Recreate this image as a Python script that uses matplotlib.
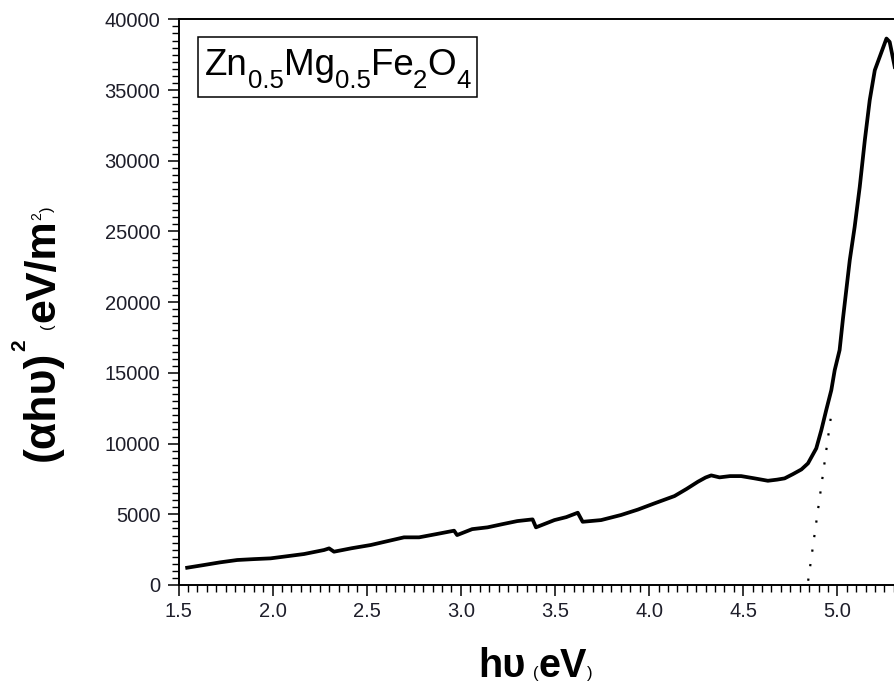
import matplotlib
matplotlib.use("Agg")
import matplotlib.pyplot as plt
from matplotlib.ticker import MultipleLocator
from matplotlib.patches import Rectangle

plt.rcParams['font.family'] = ['Liberation Sans', 'DejaVu Sans']

# ---- data ----
energy_ev = [1.546, 1.635, 1.72, 1.812, 1.90, 1.989, 2.08, 2.167, 2.273, 2.30, 2.326,
             2.42, 2.521, 2.61, 2.698, 2.778, 2.87, 2.964, 2.98, 3.06, 3.142, 3.22,
             3.30, 3.381, 3.399, 3.497, 3.56, 3.621, 3.647, 3.745, 3.851, 3.94, 4.028,
             4.135, 4.20, 4.259, 4.30, 4.33, 4.374, 4.43, 4.489, 4.56, 4.631, 4.68,
             4.72, 4.764, 4.809, 4.844, 4.888, 4.915, 4.941, 4.968, 4.986, 5.012,
             5.03, 5.066, 5.092, 5.119, 5.146, 5.172, 5.199, 5.225, 5.261, 5.278, 5.305]
alpha_hv_sq = [1222, 1413, 1600, 1767, 1830, 1884, 2040, 2190, 2473, 2590, 2355,
               2600, 2827, 3100, 3370, 3370, 3600, 3840, 3530, 3950, 4077, 4300,
               4520, 4640, 4077, 4590, 4800, 5110, 4470, 4590, 4950, 5330, 5770,
               6290, 6800, 7300, 7600, 7750, 7610, 7700, 7700, 7540, 7370, 7450,
               7540, 7840, 8170, 8600, 9660, 10950, 12370, 13780, 15190, 16610,
               18850, 22970, 25320, 28150, 31450, 34280, 36400, 37340, 38640, 38400, 36630]
fit_x = [4.845, 4.966]
fit_y = [300, 11900]

x_ticks = [1.5, 2.0, 2.5, 3.0, 3.5, 4.0, 4.5, 5.0]
y_ticks = [0, 5000, 10000, 15000, 20000, 25000, 30000, 35000, 40000]
x_limits = (1.5, 5.301)
y_limits = (0, 40000)

W, H = 894, 686
fig = plt.figure(figsize=(W / 100, H / 100), dpi=100)
left, right = 178.5 / W, 1.0
bottom, top = 1 - 585 / H, 1 - 19.3 / H
ax = fig.add_axes([left, bottom, right - left, top - bottom])

ax.plot(energy_ev, alpha_hv_sq, color='black', lw=2.7, solid_joinstyle='round')
ax.plot(fit_x, fit_y, color='black', lw=1.6, linestyle=(0, (1, 5.6)))

ax.set_xlim(*x_limits)
ax.set_ylim(*y_limits)
ax.set_xticks(x_ticks)
ax.set_yticks(y_ticks)
ax.set_xticklabels([f"{v:.1f}" for v in x_ticks])
ax.set_yticklabels([f"{v:d}" for v in y_ticks])
ax.xaxis.set_minor_locator(MultipleLocator(0.05))
ax.yaxis.set_minor_locator(MultipleLocator(500))

ax.spines['right'].set_visible(False)
for s in ('left', 'top', 'bottom'):
    ax.spines[s].set_linewidth(1.4)
ax.tick_params(which='major', direction='out', length=8, width=1.1,
               labelsize=14.5, labelcolor='#1e1e2a', pad=4)
ax.tick_params(which='minor', direction='out', length=4.8, width=1.0)
ax.tick_params(axis='y', which='major', pad=5)
ax.tick_params(top=False, right=False, which='both')

renderer = fig.canvas.get_renderer()


def fx(px):
    return px / W


def fy(py):
    return 1 - py / H


def chain_h(pieces, x0, base):
    x = x0
    for txt, size, weight, dy, gap in pieces:
        x += gap
        t = fig.text(fx(x), fy(base + dy), txt, fontsize=size, fontweight=weight,
                     ha='left', va='baseline', color='black')
        x += t.get_window_extent(renderer).width
    return x


def chain_v(pieces, base, y0):
    y = y0
    for txt, size, weight, dx, gap in pieces:
        y -= gap
        t = fig.text(fx(base + dx), fy(y), txt, fontsize=size, fontweight=weight,
                     rotation=90, rotation_mode='anchor', ha='left', va='baseline',
                     color='black')
        y -= t.get_window_extent(renderer).height
    return y


# x label: hυ (eV)
chain_h([("h\u03c5", 28.5, 'bold', 0, 0),
         ("(", 12, 'normal', 1, 8),
         ("eV", 28.5, 'bold', 0, 0),
         (")", 12, 'normal', 1, 0)], 478, 677)

# y label: (αhυ)^2 (eV/m^2)
chain_v([("(\u03b1h\u03c5)", 32, 'bold', 0, 0),
         ("2", 15, 'bold', -29, 0),
         ("(", 12, 'normal', -2, 10),
         ("eV/m", 31, 'bold', 0, 1),
         ("2", 10, 'normal', -13, 0),
         (")", 12, 'normal', -2, 0)], 54, 461)

# formula box
fig.patches.append(Rectangle((fx(198), fy(97)), (477 - 198) / W, 60 / H,
                             transform=fig.transFigure, fill=False,
                             edgecolor='black', lw=1.1))
chain_h([("Zn", 26.5, 'normal', 0, 0),
         ("0.5", 18.5, 'normal', 13, 0),
         ("Mg", 26.5, 'normal', 0, 0),
         ("0.5", 18.5, 'normal', 13, 0),
         ("Fe", 26.5, 'normal', 0, 0),
         ("2", 18.5, 'normal', 13, 0),
         ("O", 26.5, 'normal', 0, 0),
         ("4", 18.5, 'normal', 13, 0)], 205, 75)

fig.savefig("out.png", dpi=100)
